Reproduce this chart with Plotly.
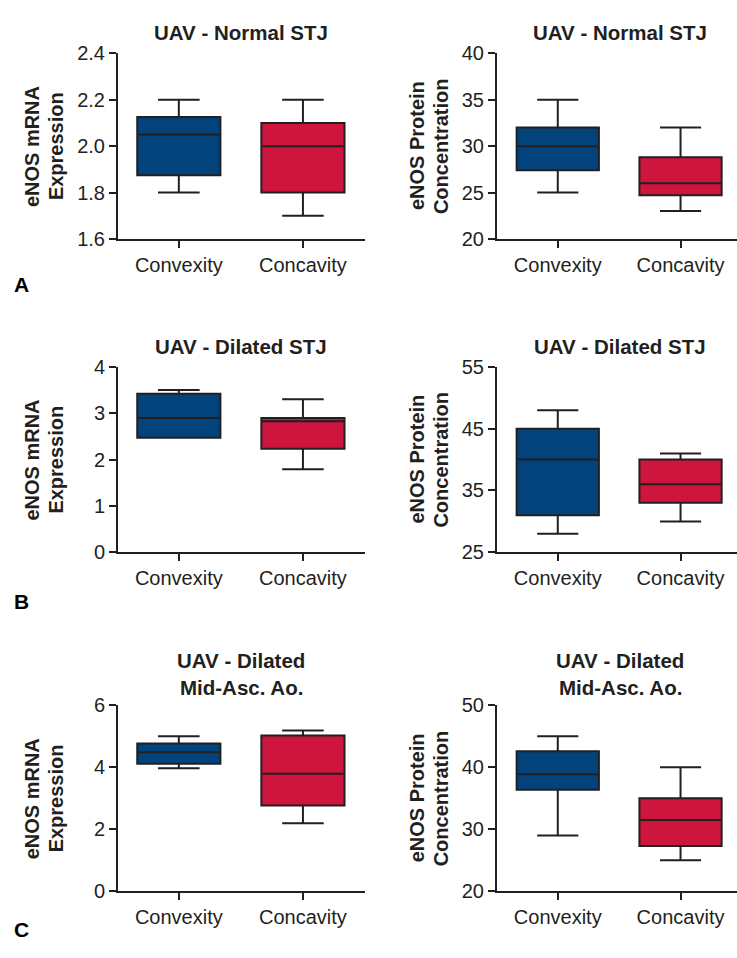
import plotly.graph_objects as go

# ---------------- data ----------------
categories = ["Convexity", "Concavity"]
panel_titles = [
    ["UAV - Normal STJ"], ["UAV - Normal STJ"],
    ["UAV - Dilated STJ"], ["UAV - Dilated STJ"],
    ["UAV - Dilated", "Mid-Asc. Ao."], ["UAV - Dilated", "Mid-Asc. Ao."],
]
y_titles = [
    ["eNOS mRNA", "Expression"], ["eNOS Protein", "Concentration"],
    ["eNOS mRNA", "Expression"], ["eNOS Protein", "Concentration"],
    ["eNOS mRNA", "Expression"], ["eNOS Protein", "Concentration"],
]
panel_letters = ["A", "B", "C"]

# box statistics per panel (order: A-mRNA, A-protein, B-mRNA, B-protein, C-mRNA, C-protein)
convexity_min    = [1.80, 25.0, 2.47, 28.0, 3.97, 29.0]
convexity_q1     = [1.875, 27.4, 2.47, 31.0, 4.12, 36.4]
convexity_median = [2.05, 30.0, 2.90, 40.0, 4.49, 38.9]
convexity_q3     = [2.125, 32.0, 3.42, 45.0, 4.77, 42.6]
convexity_max    = [2.20, 35.0, 3.50, 48.0, 5.00, 45.0]

concavity_min    = [1.70, 23.0, 1.79, 30.0, 2.20, 25.0]
concavity_q1     = [1.80, 24.7, 2.235, 33.0, 2.77, 27.3]
concavity_median = [2.00, 26.0, 2.83, 36.0, 3.79, 31.5]
concavity_q3     = [2.10, 28.8, 2.90, 40.0, 5.03, 35.0]
concavity_max    = [2.20, 32.0, 3.30, 41.0, 5.19, 40.0]

y_ranges = [[1.6, 2.4], [20, 40], [0, 4], [25, 55], [0, 6], [20, 50]]
y_dticks = [0.2, 5, 1, 10, 2, 10]
y_formats = [".1f", "d", "d", "d", "d", "d"]

# ---------------- style ----------------
W, H = 737, 958
INK = "#231f20"
BLUE = "#02437c"
RED = "#cd153e"
FONT = "Liberation Sans, Arial, Helvetica, sans-serif"

def px_x(p):
    return p / W

def px_y(p):
    return 1 - p / H

x_domains = [[118 / W, 365 / W], [497 / W, 1.0]]
y_domains_px = [(43.3, 233.3), (364.3, 554.0), (710.7, 901.0)]
x_ranges = [[-0.49, 1.5], [-0.495, 1.46]]

fig = go.Figure()
layout = dict(
    width=W, height=H,
    margin=dict(l=0, r=0, t=0, b=0),
    paper_bgcolor="white", plot_bgcolor="white",
    showlegend=False, boxmode="overlay",
    font=dict(family=FONT, color=INK),
)
annotations = []

for i in range(6):
    row, col = divmod(i, 2)
    idx = i + 1
    xa = "x" if idx == 1 else f"x{idx}"
    ya = "y" if idx == 1 else f"y{idx}"
    xkey = "xaxis" if idx == 1 else f"xaxis{idx}"
    ykey = "yaxis" if idx == 1 else f"yaxis{idx}"

    stats = [
        (categories[0], BLUE, convexity_min[i], convexity_q1[i], convexity_median[i],
         convexity_q3[i], convexity_max[i]),
        (categories[1], RED, concavity_min[i], concavity_q1[i], concavity_median[i],
         concavity_q3[i], concavity_max[i]),
    ]
    for cat, color, lo, q1, med, q3, hi in stats:
        fig.add_trace(go.Box(
            x=[cat], q1=[q1], median=[med], q3=[q3],
            lowerfence=[lo], upperfence=[hi],
            width=0.67, whiskerwidth=0.5,
            fillcolor=color, line=dict(color=INK, width=2),
            boxpoints=False, xaxis=xa, yaxis=ya, hoverinfo="skip",
        ))

    top_px, bot_px = y_domains_px[row]
    layout[xkey] = dict(
        domain=x_domains[col], anchor=ya,
        type="category", categoryorder="array", categoryarray=categories,
        range=x_ranges[col],
        showline=True, linecolor=INK, linewidth=2,
        ticks="outside", ticklen=7, tickwidth=2, tickcolor=INK,
        showgrid=False, zeroline=False,
        tickfont=dict(family=FONT, size=20, color=INK),
        fixedrange=True,
    )
    layout[ykey] = dict(
        domain=[px_y(bot_px), px_y(top_px)], anchor=xa,
        range=y_ranges[i], dtick=y_dticks[i], tick0=y_ranges[i][0],
        tickformat=y_formats[i],
        showline=True, linecolor=INK, linewidth=2,
        ticks="outside", ticklen=7, tickwidth=2, tickcolor=INK,
        showgrid=False, zeroline=False,
        tickfont=dict(family=FONT, size=20, color=INK),
        fixedrange=True,
    )

    # panel title
    tcx = 241 if col == 0 else 620
    lines = panel_titles[i]
    if len(lines) == 1:
        ys = [{0: 22, 1: 343, 2: 678}[row]]
    else:
        ys = [665, 692]
    for t, yp in zip(lines, ys):
        annotations.append(dict(
            text=f"<b>{t}</b>", x=px_x(tcx), y=px_y(yp), xref="paper", yref="paper",
            xanchor="center", yanchor="middle", showarrow=False,
            font=dict(family=FONT, size=20.5, color=INK),
        ))

    # y-axis title (two rotated lines)
    ycy = (top_px + bot_px) / 2
    xs = [32, 56] if col == 0 else [417, 441]
    for t, xp in zip(y_titles[i], xs):
        annotations.append(dict(
            text=f"<b>{t}</b>", x=px_x(xp), y=px_y(ycy), xref="paper", yref="paper",
            xanchor="center", yanchor="middle", showarrow=False, textangle=-90,
            font=dict(family=FONT, size=20, color=INK),
        ))

for letter, yp in zip(panel_letters, [280, 604, 940]):
    annotations.append(dict(
        text=f"<b>{letter}</b>", x=px_x(21), y=px_y(yp), xref="paper", yref="paper",
        xanchor="center", yanchor="middle", showarrow=False,
        font=dict(family=FONT, size=21, color="#000000"),
    ))

layout["annotations"] = annotations
fig.update_layout(**layout)
fig.write_html(
    "out.html",
    post_script=(
        "document.documentElement.style.margin='0';"
        "document.documentElement.style.padding='0';"
        "document.documentElement.style.overflow='hidden';"
        "document.body.style.margin='0';"
        "document.body.style.padding='0';"
        "document.body.style.overflow='hidden';"
    ),
)
